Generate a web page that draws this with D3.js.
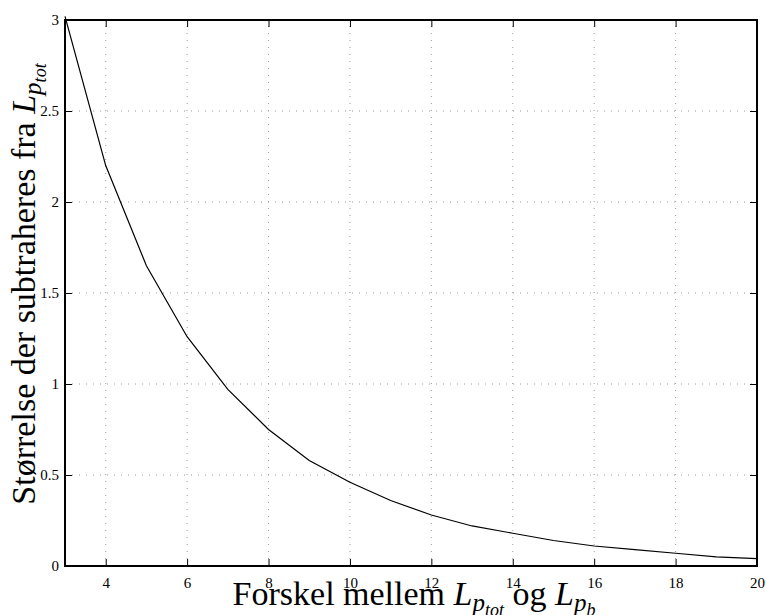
<!DOCTYPE html>
<html><head><meta charset="utf-8">
<script src="https://cdn.jsdelivr.net/npm/d3@7"></script>
<style>body{margin:0;background:#fff}svg{display:block}</style>
</head><body>
<script>
const xValues = [3,4,5,6,7,8,9,10,11,12,13,14,15,16,17,18,19,20];
const yValues = [3.02,2.20,1.65,1.26,0.97,0.75,0.58,0.46,0.36,0.28,0.22,0.18,0.14,0.11,0.09,0.07,0.05,0.04];
const xTicks = [4,6,8,10,12,14,16,18,20];
const yTicks = [0,0.5,1,1.5,2,2.5,3];
const yTickLabels = ["0","0.5","1","1.5","2","2.5","3"];

const W=766,H=615;
const m={l:65,r:9,t:20,b:49};
const svg=d3.select("body").append("svg").attr("width",W).attr("height",H);
const x=d3.scaleLinear().domain([3,20]).range([m.l,W-m.r]);
const y=d3.scaleLinear().domain([0,3]).range([H-m.b,m.t]);
const serif="'Liberation Serif','Times New Roman',serif";
const TF=15;

// grid
const g=svg.append("g");
g.selectAll(".gx").data(xTicks.filter(d=>d<20)).enter().append("line")
 .attr("x1",d=>x(d)).attr("x2",d=>x(d)).attr("y1",y(0)).attr("y2",y(3))
 .attr("stroke","#9a9a9a").attr("stroke-width",1).attr("stroke-dasharray","1,6");
g.selectAll(".gy").data(yTicks.filter(d=>d>0&&d<3)).enter().append("line")
 .attr("y1",d=>y(d)).attr("y2",d=>y(d)).attr("x1",x(3)).attr("x2",x(20))
 .attr("stroke","#9a9a9a").attr("stroke-width",1).attr("stroke-dasharray","1,6");

// axes with inside ticks
const ax=svg.append("g");
const xb=d3.axisBottom(x).tickValues(xTicks).tickSizeInner(-7).tickSizeOuter(0).tickPadding(11).tickFormat(d3.format("d"));
ax.append("g").attr("transform",`translate(0,${y(0)})`).call(xb)
 .call(s=>{s.select(".domain").remove();s.selectAll("text").attr("font-family",serif).attr("font-size",TF).attr("fill","#000");});
ax.append("g").attr("transform",`translate(0,${y(3)})`).call(d3.axisTop(x).tickValues(xTicks).tickSizeInner(-7).tickSizeOuter(0).tickFormat(""))
 .call(s=>s.select(".domain").remove());
const yl=d3.axisLeft(y).tickValues(yTicks).tickSizeInner(-7).tickSizeOuter(0).tickPadding(6).tickFormat((d,i)=>yTickLabels[i]);
ax.append("g").attr("transform",`translate(${x(3)},0)`).call(yl)
 .call(s=>{s.select(".domain").remove();s.selectAll("text").attr("font-family",serif).attr("font-size",TF).attr("fill","#000");});
ax.append("g").attr("transform",`translate(${x(20)},0)`).call(d3.axisRight(y).tickValues(yTicks).tickSizeInner(-7).tickSizeOuter(0).tickFormat(""))
 .call(s=>s.select(".domain").remove());
ax.selectAll(".tick line").attr("stroke","#000").attr("stroke-width",1);

// frame
svg.append("rect").attr("x",x(3)).attr("y",y(3)).attr("width",x(20)-x(3)).attr("height",y(0)-y(3))
 .attr("fill","none").attr("stroke","#000").attr("stroke-width",2);

// curve
svg.append("path").datum(xValues.map((d,i)=>[d,yValues[i]]))
 .attr("d",d3.line().x(d=>x(d[0])).y(d=>y(d[1])))
 .attr("fill","none").attr("stroke","#000").attr("stroke-width",1.2);

// labels
const LF=34;
function mathL(t,sub,subsub){
  t.append("tspan").attr("font-style","italic").text("L");
  t.append("tspan").attr("font-style","italic").attr("font-size",25).attr("dy",6).text(sub);
  t.append("tspan").attr("font-style","italic").attr("font-size",18).attr("dy",5).text(subsub);
  return -11;
}
const xt=svg.append("text").attr("x",(x(3)+x(20))/2+3).attr("y",605).attr("text-anchor","middle")
 .attr("font-family",serif).attr("font-size",LF).attr("fill","#000");
xt.append("tspan").text("Forskel mellem ");
let r=mathL(xt,"p","tot");
xt.append("tspan").attr("dy",r).text(" og ");
mathL(xt,"p","b");

const yt=svg.append("text").attr("transform",`translate(35,${284}) rotate(-90)`).attr("text-anchor","middle")
 .attr("font-family",serif).attr("font-size",LF).attr("fill","#000");
yt.append("tspan").text("Størrelse der subtraheres fra ");
mathL(yt,"p","tot");
</script>
</body></html>
